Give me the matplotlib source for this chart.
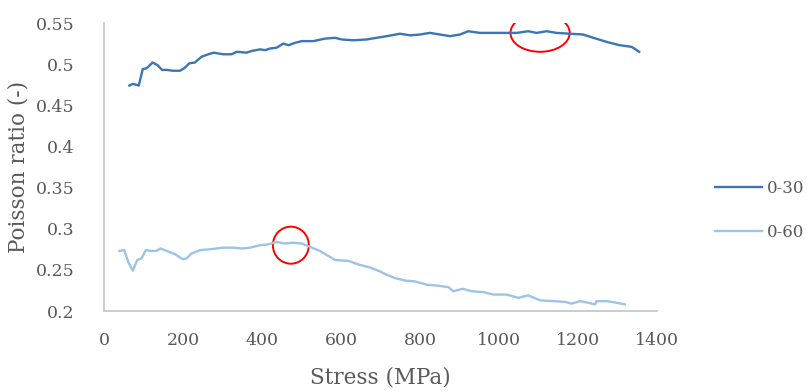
import matplotlib
matplotlib.use("Agg")
import matplotlib.pyplot as plt
from matplotlib.patches import Ellipse

# 0-30 series (stress in MPa, Poisson ratio)
stress_30 = [64, 73, 81, 88, 98, 108, 123, 135, 147, 159, 174, 192, 203, 216, 230,
             247, 264, 278, 289, 302, 323, 336, 361, 374, 395, 408, 420, 437, 454,
             467, 484, 501, 530, 559, 585, 602, 631, 665, 690, 716, 749, 775, 800,
             825, 851, 876, 901, 922, 952, 986, 1019, 1045, 1074, 1095, 1121, 1146,
             1180, 1213, 1239, 1273, 1306, 1336, 1355]
poisson_30 = [0.474, 0.476, 0.475, 0.474, 0.494, 0.495, 0.502, 0.499, 0.493, 0.493,
              0.492, 0.492, 0.495, 0.501, 0.502, 0.509, 0.512, 0.514, 0.513, 0.512,
              0.512, 0.515, 0.514, 0.516, 0.518, 0.517, 0.519, 0.520, 0.525, 0.523,
              0.526, 0.528, 0.528, 0.531, 0.532, 0.530, 0.529, 0.530, 0.532, 0.534,
              0.537, 0.535, 0.536, 0.538, 0.536, 0.534, 0.536, 0.540, 0.538, 0.538,
              0.538, 0.538, 0.540, 0.538, 0.540, 0.538, 0.537, 0.536, 0.532, 0.527,
              0.523, 0.521, 0.515]

# 0-60 series
stress_60 = [39, 51, 62, 73, 84, 95, 106, 121, 132, 143, 159, 180, 199, 209, 222,
             243, 268, 302, 327, 349, 370, 395, 416, 437, 458, 479, 501, 526, 547,
             564, 585, 618, 648, 673, 699, 716, 737, 762, 787, 817, 842, 872, 884,
             908, 931, 960, 986, 1019, 1049, 1074, 1104, 1138, 1168, 1184, 1205,
             1226, 1243, 1247, 1273, 1298, 1319]
poisson_60 = [0.273, 0.274, 0.259, 0.249, 0.262, 0.264, 0.274, 0.273, 0.273, 0.276,
              0.273, 0.269, 0.263, 0.264, 0.270, 0.274, 0.275, 0.277, 0.277, 0.276,
              0.277, 0.280, 0.281, 0.284, 0.282, 0.283, 0.282, 0.277, 0.273, 0.268,
              0.262, 0.261, 0.256, 0.253, 0.248, 0.244, 0.240, 0.237, 0.236, 0.232,
              0.231, 0.229, 0.224, 0.227, 0.224, 0.223, 0.220, 0.220, 0.216, 0.219,
              0.213, 0.212, 0.211, 0.209, 0.212, 0.210, 0.208, 0.212, 0.212, 0.210,
              0.208]

labels = ["0-30", "0-60"]
colors = ["#3a75b9", "#9dc3e6"]

x_ticks = [0, 200, 400, 600, 800, 1000, 1200, 1400]
y_ticks = [0.2, 0.25, 0.3, 0.35, 0.4, 0.45, 0.5, 0.55]
y_tick_labels = ["0.2", "0.25", "0.3", "0.35", "0.4", "0.45", "0.5", "0.55"]

# highlighted regions (center x, center y, width, height)
circles = [(1104, 0.538, 150, 0.046), (473, 0.280, 91, 0.045)]

text_col = "#595959"
plt.rcParams["font.family"] = ["DejaVu Serif"]

fig = plt.figure(figsize=(8.07, 3.92), dpi=100)
ax = fig.add_axes([0.1289, 0.2066, 0.6852, 0.7347])

ax.plot(stress_30, poisson_30, color=colors[0], lw=1.7, label=labels[0])
ax.plot(stress_60, poisson_60, color=colors[1], lw=1.7, label=labels[1])

for cx, cy, w, h in circles:
    ax.add_patch(Ellipse((cx, cy), w, h, fill=False, edgecolor="red", lw=1.4))

ax.set_xlim(0, 1400)
ax.set_ylim(0.2, 0.55)
ax.set_xticks(x_ticks)
ax.set_yticks(y_ticks)
ax.set_yticklabels(y_tick_labels)
ax.tick_params(length=0, labelsize=12.5, colors=text_col)
ax.tick_params(axis="y", pad=21)
ax.tick_params(axis="x", pad=15)

for s in ["top", "right"]:
    ax.spines[s].set_visible(False)
for s in ["left", "bottom"]:
    ax.spines[s].set_color("#c8c8c8")
    ax.spines[s].set_linewidth(1.3)

ax.set_xlabel("Stress (MPa)", fontsize=15.5, color=text_col, labelpad=13)
ax.set_ylabel("Poisson ratio (-)", fontsize=15.5, color=text_col, labelpad=5)

leg = ax.legend(loc="center left", bbox_to_anchor=(0.886, 0.463),
                bbox_transform=fig.transFigure, frameon=False, fontsize=12,
                handlelength=2.8, handletextpad=0.3, labelspacing=1.6,
                borderpad=0, borderaxespad=0, labelcolor=text_col)

fig.savefig("out.png", dpi=100)
